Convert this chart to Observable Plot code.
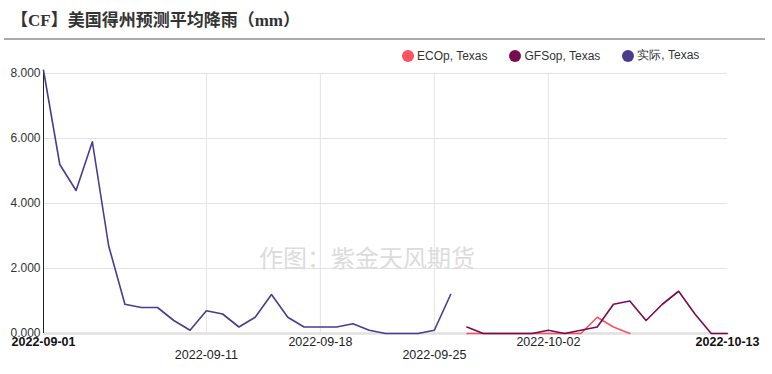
<!DOCTYPE html>
<html><head><meta charset="utf-8">
<script src="https://cdn.jsdelivr.net/npm/d3@7"></script>
<script src="https://cdn.jsdelivr.net/npm/@observablehq/plot@0.6"></script>
<style>
body{margin:0;background:#fff;}
#wrap{position:relative;width:772px;height:374px;overflow:hidden;font-family:"Liberation Sans",Arial,sans-serif;}
#title{position:absolute;left:11px;top:12px;line-height:18px;font-weight:bold;font-size:17px;font-family:"Liberation Serif","Noto Sans CJK SC",serif;color:#333;white-space:nowrap;}
#hr{position:absolute;left:4px;top:38px;width:761px;height:0;border-top:2px solid #aaa;}
#legend{position:absolute;left:402px;top:47px;display:flex;align-items:center;font-size:12px;color:#333;white-space:nowrap;}
.item{display:flex;align-items:center;margin-right:22px;}
.dot{width:12px;height:12px;border-radius:50%;margin-right:3px;}
#wm{position:absolute;left:259px;top:244px;font-size:24px;line-height:26px;color:#dcdcdc;font-family:"Noto Sans CJK SC",sans-serif;white-space:nowrap;}
#chart{position:absolute;left:0;top:0;}
</style></head>
<body>
<div id="wrap">
  <div id="chart"></div>
  <div id="wm">作图：紫金天风期货</div>
  <div id="title">【CF】美国得州预测平均降雨（mm）</div>
  <div id="hr"></div>
  <div id="legend"></div>
</div>
<script>
const titleText = "【CF】美国得州预测平均降雨（mm）";
const seriesNames = ["ECOp, Texas", "GFSop, Texas", "实际, Texas"];
const seriesColors = ["#fb5262", "#7a0a4f", "#4a3c8e"];

const actualDates = ["2022-09-01","2022-09-02","2022-09-03","2022-09-04","2022-09-05","2022-09-06","2022-09-07","2022-09-08","2022-09-09","2022-09-10","2022-09-11","2022-09-12","2022-09-13","2022-09-14","2022-09-15","2022-09-16","2022-09-17","2022-09-18","2022-09-19","2022-09-20","2022-09-21","2022-09-22","2022-09-23","2022-09-24","2022-09-25","2022-09-26"];
const actualValues = [8.1,5.2,4.4,5.9,2.7,0.9,0.8,0.8,0.4,0.1,0.7,0.6,0.2,0.5,1.2,0.5,0.2,0.2,0.2,0.3,0.1,0,0,0,0.1,1.2];

const gfsDates = ["2022-09-27","2022-09-28","2022-09-29","2022-09-30","2022-10-01","2022-10-02","2022-10-03","2022-10-04","2022-10-05","2022-10-06","2022-10-07","2022-10-08","2022-10-09","2022-10-10","2022-10-11","2022-10-12","2022-10-13"];
const gfsValues = [0.2,0,0,0,0,0.1,0,0.1,0.2,0.9,1.0,0.4,0.9,1.3,0.6,0,0];

const ecDates = ["2022-09-27","2022-09-28","2022-09-29","2022-09-30","2022-10-01","2022-10-02","2022-10-03","2022-10-04","2022-10-05","2022-10-06","2022-10-07"];
const ecValues = [0,0,0,0,0,0,0,0,0.5,0.2,0];

const xDomain = ["2022-09-01","2022-10-13"];
const yTicks = [0,2,4,6,8];
const xGridTicks = ["2022-09-11","2022-09-18","2022-09-25","2022-10-02"];
const xLabelsRow1 = ["2022-09-18","2022-10-02"];
const xLabelsRow2 = ["2022-09-11","2022-09-25"];
const xLabelsBold = ["2022-09-01","2022-10-13"];

const P = d3.utcParse("%Y-%m-%d");
const toRows = (ds, vs) => ds.map((d,i)=>({date:P(d), value:vs[i]}));
const ecRows = toRows(ecDates, ecValues);
const gfsRows = toRows(gfsDates, gfsValues);
const actRows = toRows(actualDates, actualValues);
const fmt = d3.utcFormat("%Y-%m-%d");

// legend
const leg = document.getElementById("legend");
seriesNames.forEach((n,i)=>{
  const it = document.createElement("div"); it.className="item";
  const dot = document.createElement("div"); dot.className="dot"; dot.style.background=seriesColors[i];
  const t = document.createElement("span"); t.textContent=n;
  it.appendChild(dot); it.appendChild(t); leg.appendChild(it);
});

const chart = Plot.plot({
  width: 772,
  height: 374,
  marginLeft: 43,
  marginRight: 45,
  marginTop: 73,
  marginBottom: 41,
  style: {fontFamily: "Liberation Sans, Arial, sans-serif", fontSize: "12px", color: "#333", background: "transparent"},
  x: {type: "utc", domain: xDomain.map(P), axis: null},
  y: {domain: [0, 8], axis: null},
  marks: [
    Plot.gridY(yTicks, {stroke: "#e3e3e3", strokeOpacity: 1}),
    Plot.gridX(xGridTicks.map(P), {stroke: "#e3e3e3", strokeOpacity: 1}),
    Plot.ruleY([0], {stroke: "#e0e0e0", strokeWidth: 2.5}),
    Plot.ruleX([P(xDomain[0])], {y1: 0, y2: 8.03, stroke: "#222", strokeWidth: 1}),
    Plot.axisY({ticks: yTicks, tickFormat: d3.format(".3f"), tickSize: 0, tickPadding: 3, fontSize: 12, fill: "#333", label: null}),
    Plot.line(ecRows, {x: "date", y: "value", stroke: seriesColors[0], strokeWidth: 1.6}),
    Plot.line(gfsRows, {x: "date", y: "value", stroke: seriesColors[1], strokeWidth: 1.6}),
    Plot.line(actRows, {x: "date", y: "value", stroke: seriesColors[2], strokeWidth: 1.6}),
    Plot.text(xLabelsBold.map(P), {x: d=>d, text: d=>fmt(d), frameAnchor: "bottom", dy: 12.5, fontWeight: "bold", fill: "#111", fontSize: 12.5}),
    Plot.text(xLabelsRow1.map(P), {x: d=>d, text: d=>fmt(d), frameAnchor: "bottom", dy: 12.5, fill: "#222", fontSize: 12.5}),
    Plot.text(xLabelsRow2.map(P), {x: d=>d, text: d=>fmt(d), frameAnchor: "bottom", dy: 25, fill: "#222", fontSize: 12.5})
  ]
});
document.getElementById("chart").appendChild(chart);
</script>
</body></html>
